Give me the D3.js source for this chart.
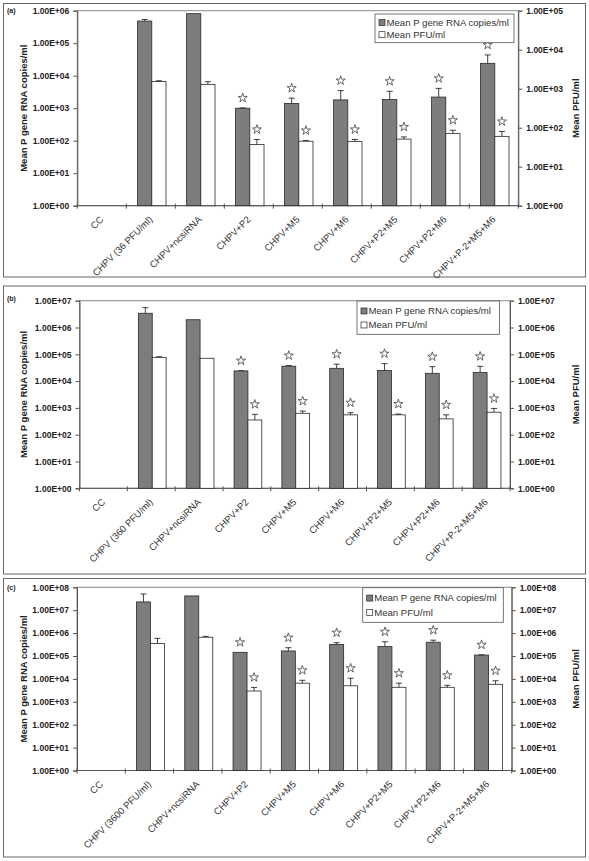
<!DOCTYPE html>
<html><head><meta charset="utf-8">
<script src="https://cdn.jsdelivr.net/npm/d3@7"></script>
<style>body{margin:0;background:#fff}svg text{font-family:Arial,"Liberation Sans",sans-serif}</style>
</head><body><svg id="chart" width="589" height="861"></svg>
<script>
// ---------- data ----------
const categoriesA = ["CC","CHPV (36 PFU/ml)","CHPV+ncsiRNA","CHPV+P2","CHPV+M5","CHPV+M6","CHPV+P2+M5","CHPV+P2+M6","CHPV+P-2+M5+M6"];
const categoriesB = ["CC","CHPV (360 PFU/ml)","CHPV+ncsiRNA","CHPV+P2","CHPV+M5","CHPV+M6","CHPV+P2+M5","CHPV+P2+M6","CHPV+P-2+M5+M6"];
const categoriesC = ["CC","CHPV (3600 PFU/ml)","CHPV+ncsiRNA","CHPV+P2","CHPV+M5","CHPV+M6","CHPV+P2+M5","CHPV+P2+M6","CHPV+P-2+M5+M6"];

const seriesNames = ["Mean P gene RNA copies/ml","Mean PFU/ml"];

// panel (a)
const rnaA   = [null, 4.8e5, 8.1e5, 1.0e3, 1.4e3, 1.8e3, 1.85e3, 2.2e3, 2.4e4];
const rnaSdA = [0, 5.7e4, 0, 20, 640, 1670, 1460, 1870, 1.96e4];
const pfuA   = [null, 1530, 1290, 37, 45, 44, 51, 71, 60];
const pfuSdA = [0, 70, 220, 13, 2, 6, 7, 15, 20];
// panel (b)
const rnaB   = [null, 3.4e6, 1.95e6, 2.4e4, 3.6e4, 3.0e4, 2.5e4, 1.95e4, 2.1e4];
const rnaSdB = [0, 2.1e6, 0, 500, 2000, 1.27e4, 1.97e4, 1.5e4, 1.45e4];
const pfuB   = [null, 7.7e4, 7.1e4, 355, 630, 550, 550, 390, 690];
const pfuSdB = [0, 4000, 0, 220, 130, 110, 40, 160, 265];
// panel (c)
const rnaC   = [null, 2.3e7, 4.2e7, 1.45e5, 1.66e5, 3.2e5, 2.6e5, 4.0e5, 1.1e5];
const rnaSdC = [0, 2.8e7, 0, 0, 6.4e4, 6.0e4, 1.6e5, 9.0e4, 3000];
const pfuC   = [null, 3.5e5, 6.6e5, 2950, 6500, 5000, 4300, 4300, 5800];
const pfuSdC = [0, 2.4e5, 6.0e4, 1300, 2200, 5700, 2200, 950, 2500];

// significance stars (same for every panel)
const starred = [false, false, false, true, true, true, true, true, true];

// axis exponents (decades)
const leftDecadesA = [0,1,2,3,4,5,6];
const rightDecadesA = [0,1,2,3,4,5];
const decadesB = [0,1,2,3,4,5,6,7];
const decadesC = [0,1,2,3,4,5,6,7,8];

// ---------- drawing ----------
const svg = d3.select("#chart");
const darkFill = "#7d7d7d", stroke = "#2a2a2a", axisCol = "#555";
const fmt = e => "1.00E+" + String(e).padStart(2, "0");

const panels = [
  {label:"(a)", cats:categoriesA, rna:rnaA, rnaSd:rnaSdA, pfu:pfuA, pfuSd:pfuSdA,
   left:leftDecadesA, right:rightDecadesA,
   frame:[3.5, 3.5, 585.5, 277], plot:[77.3, 10.7, 518.3, 205.7], legend:[375, 14, 514, 42.7],
   labY:11},
  {label:"(b)", cats:categoriesB, rna:rnaB, rnaSd:rnaSdB, pfu:pfuB, pfuSd:pfuSdB,
   left:decadesB, right:decadesB,
   frame:[3.5, 286, 585.5, 574], plot:[79.5, 300.7, 510, 488.3], legend:[357, 301, 499.5, 334.3],
   labY:299},
  {label:"(c)", cats:categoriesC, rna:rnaC, rnaSd:rnaSdC, pfu:pfuC, pfuSd:pfuSdC,
   left:decadesC, right:decadesC,
   frame:[3.5, 578.5, 585.5, 857], plot:[77, 587.3, 511.7, 770.5], legend:[362.7, 587.7, 503.3, 622.3],
   labY:588}
];

panels.forEach(p => {
  const [fx0, fy0, fx1, fy1] = p.frame;
  const [px0, py0, px1, py1] = p.plot;
  const g = svg.append("g");

  g.append("rect").attr("x", fx0).attr("y", fy0).attr("width", fx1 - fx0).attr("height", fy1 - fy0)
    .attr("fill", "#fff").attr("stroke", "#666").attr("stroke-width", 1);

  const x = d3.scaleBand().domain(p.cats).range([px0, px1]).paddingInner(0).paddingOuter(0);
  const yL = d3.scaleLog().domain([1, Math.pow(10, d3.max(p.left))]).range([py1, py0]);
  const yR = d3.scaleLog().domain([1, Math.pow(10, d3.max(p.right))]).range([py1, py0]);

  // plot border
  g.append("rect").attr("x", px0).attr("y", py0).attr("width", px1 - px0).attr("height", py1 - py0)
    .attr("fill", "none").attr("stroke", "#8a8a8a").attr("stroke-width", 1);

  // y axes
  const axL = g.append("g").attr("transform", `translate(${px0},0)`)
    .call(d3.axisLeft(yL).tickValues(p.left.map(e => Math.pow(10, e))).tickFormat(d => fmt(Math.round(Math.log10(d)))).tickSize(4).tickPadding(4));
  const axR = g.append("g").attr("transform", `translate(${px1},0)`)
    .call(d3.axisRight(yR).tickValues(p.right.map(e => Math.pow(10, e))).tickFormat(d => fmt(Math.round(Math.log10(d)))).tickSize(4).tickPadding(4));
  [axL, axR].forEach(a => {
    a.select(".domain").attr("stroke", axisCol);
    a.selectAll(".tick line").attr("stroke", axisCol);
    a.selectAll("text").attr("font-size", 8.5).attr("font-weight", "bold").attr("fill", "#222");
  });

  // x axis
  const axX = g.append("g").attr("transform", `translate(0,${py1})`);
  axX.append("line").attr("x1", px0).attr("x2", px1).attr("stroke", axisCol);
  axX.selectAll("line.t").data(d3.range(p.cats.length + 1)).join("line").attr("class", "t")
    .attr("x1", i => px0 + i * x.bandwidth()).attr("x2", i => px0 + i * x.bandwidth())
    .attr("y1", -2).attr("y2", 3).attr("stroke", axisCol);
  axX.selectAll("text").data(p.cats).join("text")
    .attr("transform", d => `translate(${x(d) + x.bandwidth() / 2},${12}) rotate(-45)`)
    .attr("text-anchor", "end").attr("dy", "0.35em")
    .attr("font-size", 9.5).attr("fill", "#333").text(d => d);

  // bars
  const bw = x.bandwidth() * 0.29;
  const rows = p.cats.map((c, i) => ({c, i, rna: p.rna[i], rnaSd: p.rnaSd[i], pfu: p.pfu[i], pfuSd: p.pfuSd[i]}));
  const data = rows.filter(r => r.rna != null);
  const cx = r => x(r.c) + x.bandwidth() / 2 + 1;

  function drawSeries(key, sdKey, scale, offset, fill) {
    g.selectAll(null).data(data).join("rect")
      .attr("x", r => cx(r) + offset).attr("width", bw)
      .attr("y", r => scale(r[key])).attr("height", r => py1 - scale(r[key]))
      .attr("fill", fill).attr("stroke", stroke).attr("stroke-width", 0.8);
    const eb = data.filter(r => r[sdKey] > 0);
    g.selectAll(null).data(eb).join("path")
      .attr("d", r => {
        const xm = cx(r) + offset + bw / 2, y0 = scale(r[key]), y1 = scale(r[key] + r[sdKey]);
        return `M${xm},${y0}V${y1}M${xm - 3},${y1}H${xm + 3}`;
      })
      .attr("stroke", stroke).attr("stroke-width", 0.9).attr("fill", "none");
    g.selectAll(null).data(data.filter(r => starred[r.i])).join("path")
      .attr("d", d3.symbol(d3.symbolStar, 26)())
      .attr("transform", r => `translate(${cx(r) + offset + bw / 2},${scale(r[key] + r[sdKey]) - 10})`)
      .attr("fill", "#fff").attr("stroke", "#444").attr("stroke-width", 0.8);
  }
  drawSeries("rna", "rnaSd", yL, -bw, darkFill);
  drawSeries("pfu", "pfuSd", yR, 0, "#fff");

  // axis titles
  const cyT = (py0 + py1) / 2;
  g.append("text").attr("transform", `translate(27,${cyT}) rotate(-90)`).attr("text-anchor", "middle")
    .attr("font-size", 9.5).attr("font-weight", "bold").attr("fill", "#222").text(seriesNames[0]);
  g.append("text").attr("transform", `translate(${fx1 - 7},${cyT}) rotate(-90)`).attr("text-anchor", "middle")
    .attr("font-size", 9.5).attr("font-weight", "bold").attr("fill", "#222").text(seriesNames[1]);

  // panel label
  g.append("text").attr("x", 7).attr("y", p.labY + 2).attr("font-size", 7).attr("font-weight", "bold")
    .attr("fill", "#222").text(p.label);

  // legend
  const [lx0, ly0, lx1, ly1] = p.legend;
  const lg = g.append("g");
  lg.append("rect").attr("x", lx0).attr("y", ly0).attr("width", lx1 - lx0).attr("height", ly1 - ly0)
    .attr("fill", "#fff").attr("stroke", "#555").attr("stroke-width", 0.8);
  const lh = (ly1 - ly0);
  seriesNames.forEach((s, i) => {
    const yy = ly0 + lh * (0.3 + i * 0.42);
    lg.append("rect").attr("x", lx0 + 4).attr("y", yy - 3).attr("width", 6).attr("height", 6)
      .attr("fill", i === 0 ? darkFill : "#fff").attr("stroke", stroke).attr("stroke-width", 0.7);
    lg.append("text").attr("x", lx0 + 11.5).attr("y", yy).attr("dy", "0.35em")
      .attr("font-size", 9.6).attr("fill", "#333").text(s);
  });
});
</script></body></html>
